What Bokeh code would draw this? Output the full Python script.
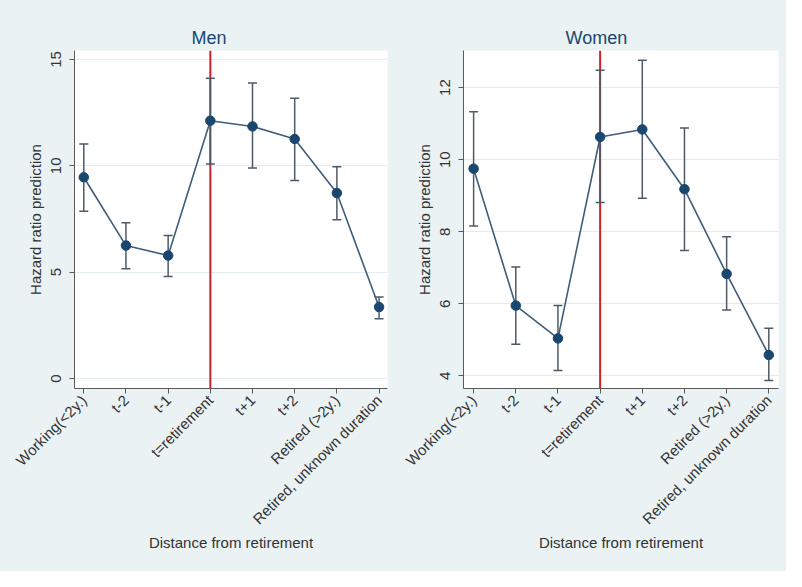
from bokeh.plotting import figure
from bokeh.models import ColumnDataSource, FixedTicker, Span, Title
from bokeh.layouts import row
from bokeh.embed import file_html
from bokeh.resources import INLINE
import math

categories = ["Working(<2y.)", "t-2", "t-1", "t=retirement", "t+1", "t+2",
              "Retired (>2y.)", "Retired, unknown duration"]

men_est = [9.46, 6.25, 5.78, 12.12, 11.85, 11.26, 8.72, 3.36]
men_hi = [11.02, 7.32, 6.72, 14.11, 13.89, 13.17, 9.96, 3.83]
men_lo = [7.86, 5.16, 4.80, 10.08, 9.90, 9.31, 7.46, 2.81]

women_est = [9.75, 5.95, 5.04, 10.63, 10.84, 9.18, 6.83, 4.58]
women_hi = [11.33, 7.02, 5.95, 12.48, 12.76, 10.88, 7.86, 5.32]
women_lo = [8.16, 4.88, 4.15, 8.81, 8.93, 7.48, 5.83, 3.87]

men_yticks = [0, 5, 10, 15]
women_yticks = [4, 6, 8, 10, 12]
retirement_index = 3

BG = "#eaf2f3"
NAVY = "#1a476f"
FONT = "Liberation Sans"


def panel(title, est, hi, lo, yticks, xr, yr, left, right, frame_w, title_offset):
    p = figure(width=left + right + frame_w, height=571,
               x_range=xr, y_range=yr, output_backend="svg", toolbar_location=None,
               min_border_left=left, min_border_right=right,
               min_border_top=50, min_border_bottom=183)
    p.background_fill_color = "white"
    p.border_fill_color = BG
    p.outline_line_color = None
    p.add_layout(Title(text=title, align="left", offset=title_offset,
                       text_font_size="18px", text_font=FONT,
                       text_font_style="normal", text_color=NAVY, standoff=5), "above")

    xs = list(range(len(categories)))
    src = ColumnDataSource(dict(x=xs, est=est, hi=hi, lo=lo))

    p.add_layout(Span(location=retirement_index, dimension="height",
                      line_color="#d0202a", line_width=2, level="underlay"))

    p.segment(x0="x", y0="lo", x1="x", y1="hi", source=src,
              line_color="#4e5a66", line_width=1.5)
    p.scatter(x="x", y="hi", source=src, marker="dash", size=9,
              line_color="#4e5a66", line_width=1.5)
    p.scatter(x="x", y="lo", source=src, marker="dash", size=9,
              line_color="#4e5a66", line_width=1.5)
    p.line(x="x", y="est", source=src, line_color="#3f5d7a", line_width=1.6)
    p.scatter(x="x", y="est", source=src, marker="circle", size=9.5,
              fill_color=NAVY, line_color=NAVY)

    p.xgrid.visible = False
    p.ygrid.grid_line_color = "#e3ecee"
    p.ygrid.grid_line_width = 1
    p.ygrid.ticker = FixedTicker(ticks=yticks)

    ax = p.xaxis[0]
    ax.ticker = FixedTicker(ticks=xs)
    ax.major_label_overrides = {i: c for i, c in enumerate(categories)}
    ax.major_label_orientation = math.pi / 4
    ax.axis_label = "Distance from retirement"

    ay = p.yaxis[0]
    ay.ticker = FixedTicker(ticks=yticks)
    ay.major_label_orientation = "vertical"
    ay.axis_label = "Hazard ratio prediction"

    for a in (ax, ay):
        a.axis_line_color = "#5a5a5a"
        a.major_tick_line_color = "#5a5a5a"
        a.major_tick_out = 5
        a.major_tick_in = 0
        a.minor_tick_line_color = None
        a.major_label_text_font = FONT
        a.major_label_text_font_size = "15px"
        a.major_label_text_color = "#333333"
        a.axis_label_text_font = FONT
        a.axis_label_text_font_size = "15px"
        a.axis_label_text_font_style = "normal"
        a.axis_label_text_color = "#333333"
    ay.major_label_standoff = 8
    ay.axis_label_standoff = 5
    ax.major_label_standoff = 4
    ax.axis_label_standoff = -2
    return p


p1 = panel("Men", men_est, men_hi, men_lo, men_yticks, (-0.22, 7.2), (-0.47, 15.42),
           74, 6, 313, 117)
p2 = panel("Women", women_est, women_hi, women_lo, women_yticks, (-0.24, 7.23), (3.65, 13.03),
           70, 8, 315, 102)

layout = row(p1, p2)
layout.styles = {"background-color": BG}
open("out.html", "w").write(file_html(layout, INLINE))
